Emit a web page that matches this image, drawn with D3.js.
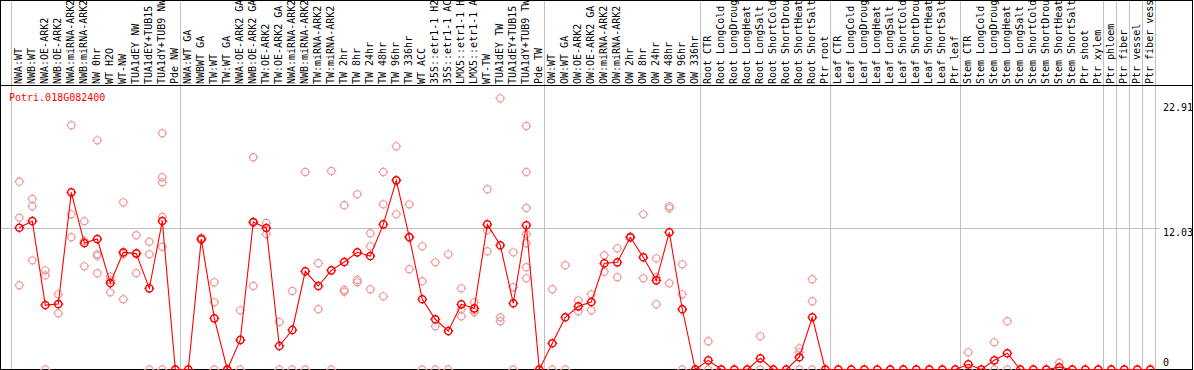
<!DOCTYPE html>
<html>
<head>
<meta charset="utf-8">
<script src="https://cdn.jsdelivr.net/npm/d3@7"></script>
<style>
  html, body { margin: 0; padding: 0; background: #fff; }
  svg { display: block; }
  text { font-family: "DejaVu Sans Mono", "Liberation Mono", monospace; font-size: 10px; }
</style>
</head>
<body>
<svg id="chart" width="1194" height="370"></svg>
<script>
const geneId = "Potri.018G082400";

const categories = [
  "NWA:WT","NWB:WT","NWA:OE-ARK2","NWB:OE-ARK2","NWA:miRNA-ARK2","NWB:miRNA-ARK2",
  "NW 0hr","WT H2O","WT-NW","TUA1dEY NW","TUA1dEY+TUB15 NW","TUA1dY+TUB9 NW","Pde NW",
  "NWA:WT GA","NWBWT GA","TW:WT","TW:WT GA","NWA:OE-ARK2 GA","NWB:OE-ARK2 GA","TW:OE-ARK2",
  "TW:OE-ARK2 GA","NWA:miRNA-ARK2 GA","NWB:miRNA-ARK2 GA","TW:miRNA-ARK2","TW:miRNA-ARK2 GA",
  "TW 2hr","TW 8hr","TW 24hr","TW 48hr","TW 96hr","TW 336hr","WT ACC",
  "35S::etr1-1 H2O","35S::etr1-1 ACC","LMX5::etr1-1 H2O","LMX5::etr1-1 ACC",
  "WT-TW","TUA1dEY TW","TUA1dEY+TUB15 TW","TUA1dY+TUB9 TW","Pde TW",
  "OW:WT","OW:WT GA","OW:OE-ARK2","OW:OE-ARK2 GA","OW:miRNA-ARK2","OW:miRNA-ARK2 GA",
  "OW 2hr","OW 8hr","OW 24hr","OW 48hr","OW 96hr","OW 336hr",
  "Root CTR","Root LongCold","Root LongDrought","Root LongHeat","Root LongSalt",
  "Root ShortCold","Root ShortDrought","Root ShortHeat","Root ShortSalt","Ptr root",
  "Leaf CTR","Leaf LongCold","Leaf LongDrought","Leaf LongHeat","Leaf LongSalt",
  "Leaf ShortCold","Leaf ShortDrought","Leaf ShortHeat","Leaf ShortSalt","Ptr leaf",
  "Stem CTR","Stem LongCold","Stem LongDrought","Stem LongHeat","Stem LongSalt",
  "Stem ShortCold","Stem ShortDrought","Stem ShortHeat","Stem ShortSalt","Ptr shoot",
  "Ptr xylem","Ptr phloem","Ptr fiber","Ptr vessel","Ptr fiber vessel"
];

const meanValues = [
  12.05,12.62,5.48,5.57,15.06,10.75,11.09,7.35,9.96,9.85,6.90,12.62,0,
  0,11.09,4.35,0,2.51,12.54,12.03,2.00,3.36,8.35,7.10,8.43,
  9.14,9.96,9.65,12.34,16.08,11.26,5.97,4.27,3.27,5.54,5.20,
  12.34,10.56,5.63,12.26,0,
  2.23,4.44,5.37,5.74,9.03,9.11,11.24,9.54,7.58,11.66,5.12,0,
  0.78,0,0,0,0.95,0,0,1.04,4.44,0,
  0,0,0,0,0,0,0,0,0,0,
  0.44,0,0.78,1.38,0,0,0,0.19,0,0,
  0,0,0,0,0
];

const replicateValues = [
  [15.97,12.9,7.16],[14.5,13.87,9.28],[8.43,8.0,0],[6.39,4.78,5.55],[20.76,13.19,11.24],
  [12.6,10.92,8.77],[19.48,9.79,9.66,8.18],[7.89,7.58,6.56],[14.21,9.8,5.97],[11.41,9.9,8.18],
  [10.86,9.79,0],[20.08,16.34,15.91,12.96,10.44,0],[0],
  [0],[11.2,11.1,11.0],[7.41,5.71,0],[0,0],[5.03,2.5,0],[18.04,12.48,7.1],[12.45,11.52],
  [4.04,0],[6.67,0],[16.79,0],[9.03,5.12],[16.87,0],
  [13.96,6.76,6.6],[14.89,7.61,7.41],[11.58,10.47,6.82],[16.79,14.04,6.22],[18.97,13.19,16.08],
  [14.04,8.52,11.2],[10.47,7.5,0],[9.11,3.67,0],[9.79,0],[6.9,5.12,4.52],[5.71,5.03,4.86],
  [15.32,11.83,10.05],[23.05,4.44,4.1],[9.96,6.99,0],[20.7,16.79,13.73,11.49,10.73,8.69,7.75],[0],
  [6.82,0],[8.86,0],[5.88,4.95],[6.39,5.03],[9.71,8.31],[10.3,7.84],[11.3,11.2],[13.19,7.75],
  [9.45,7.84,5.54],[13.87,13.7,7.33],[8.94,6.39,0],[0],
  [2.4,0],[0],[0],[0],[2.82,0],[0],[0],[1.8,1.46,0],[7.67,5.8,0],[0],
  [0],[0],[0],[0],[0],[0],[0],[0],[0],[0],
  [1.46,0],[0],[2.31,0],[4.1,0],[0],[0],[0],[0.58,0],[0],[0],
  [0],[0],[0],[0],[0]
];

const yTickValues = [22.91, 12.03, 0];
const yGridValues = [12.03];

const groupStarts = ["NWA:WT","NWA:WT GA","OW:WT","Root CTR","Leaf CTR","Stem CTR",
                     "Ptr phloem","Ptr fiber","Ptr vessel","Ptr fiber vessel"];

// ---------- drawing ----------
const W = 1194, H = 370;
const headerBottom = 85.5;
const plotRight = 1160;
const svg = d3.select("#chart");

const idx = d3.range(categories.length);
const x = d3.scaleLinear().domain([0, categories.length - 1]).range([19.3, 1150.3]);
const y = d3.scaleLinear().domain([0, 22.91]).range([369.5, 100]);
const step = x(1) - x(0);

// vertical group separators
const sepX = groupStarts.map(c => x(categories.indexOf(c)) - 8)
  .concat([x(categories.length - 1) + step - 8]);
svg.append("g").selectAll("line").data(sepX).join("line")
  .attr("x1", d => Math.round(d) + 0.5).attr("x2", d => Math.round(d) + 0.5)
  .attr("y1", 0).attr("y2", H)
  .attr("stroke", "#c0c0c0").attr("stroke-width", 1);

// horizontal grid
svg.append("g").selectAll("line").data(yGridValues).join("line")
  .attr("x1", 0).attr("x2", plotRight)
  .attr("y1", d => Math.round(y(d)) + 0.5).attr("y2", d => Math.round(y(d)) + 0.5)
  .attr("stroke", "#c0c0c0").attr("stroke-width", 1);

// borders
const border = svg.append("g").attr("stroke", "#000").attr("stroke-width", 1).attr("shape-rendering", "crispEdges");
border.append("line").attr("x1", 0).attr("x2", 1193).attr("y1", 0.5).attr("y2", 0.5);
border.append("line").attr("x1", 0).attr("x2", 1193).attr("y1", headerBottom).attr("y2", headerBottom);
border.append("line").attr("x1", 0.5).attr("x2", 0.5).attr("y1", 0).attr("y2", H);
border.append("line").attr("x1", 1192.5).attr("x2", 1192.5).attr("y1", 0).attr("y2", H);
border.append("line").attr("x1", 0).attr("x2", 1193).attr("y1", 369.5).attr("y2", 369.5);

// column labels (rotated)
svg.append("g").selectAll("text").data(idx).join("text")
  .attr("transform", i => `translate(${x(i) + 3},84) rotate(-90)`)
  .attr("text-anchor", "start")
  .attr("fill", "#000")
  .text(i => categories[i]);

// title
svg.append("text").attr("x", 9).attr("y", 100.5).attr("fill", "#ff0000").text(geneId);

// right axis labels
const yOffsets = v => v === 0 ? -4 : (v === d3.max(yTickValues) ? 11 : 8);
svg.append("g").selectAll("text").data(yTickValues).join("text")
  .attr("x", 1163).attr("y", d => y(d) + yOffsets(d))
  .attr("fill", "#000")
  .text(d => d === 0 ? "0" : d3.format(".2f")(d));

// marker symbol: ring with small ticks
function marker(g, cx, cy, color, sw) {
  const r = 3.6;
  g.append("circle").attr("cx", cx).attr("cy", cy).attr("r", r)
    .attr("fill", "none").attr("stroke", color).attr("stroke-width", sw);
  const t = r + 1.4;
  g.append("path")
    .attr("d", `M${cx},${cy - r}V${cy - t}M${cx},${cy + r}V${cy + t}M${cx - r},${cy}H${cx - t}M${cx + r},${cy}H${cx + t}`)
    .attr("stroke", color).attr("stroke-width", 1);
}

// replicates
const repG = svg.append("g");
replicateValues.forEach((reps, i) => {
  reps.forEach(v => marker(repG, x(i), y(v), "#ee9a9a", 1.2));
});

// mean line
svg.append("path")
  .datum(idx)
  .attr("fill", "none").attr("stroke", "#ff0000").attr("stroke-width", 1.1)
  .attr("d", d3.line().x(i => x(i)).y(i => y(meanValues[i])));

// mean markers
const meanG = svg.append("g");
idx.forEach(i => marker(meanG, x(i), y(meanValues[i]), "#ff0000", 1.5));
</script>
</body>
</html>
